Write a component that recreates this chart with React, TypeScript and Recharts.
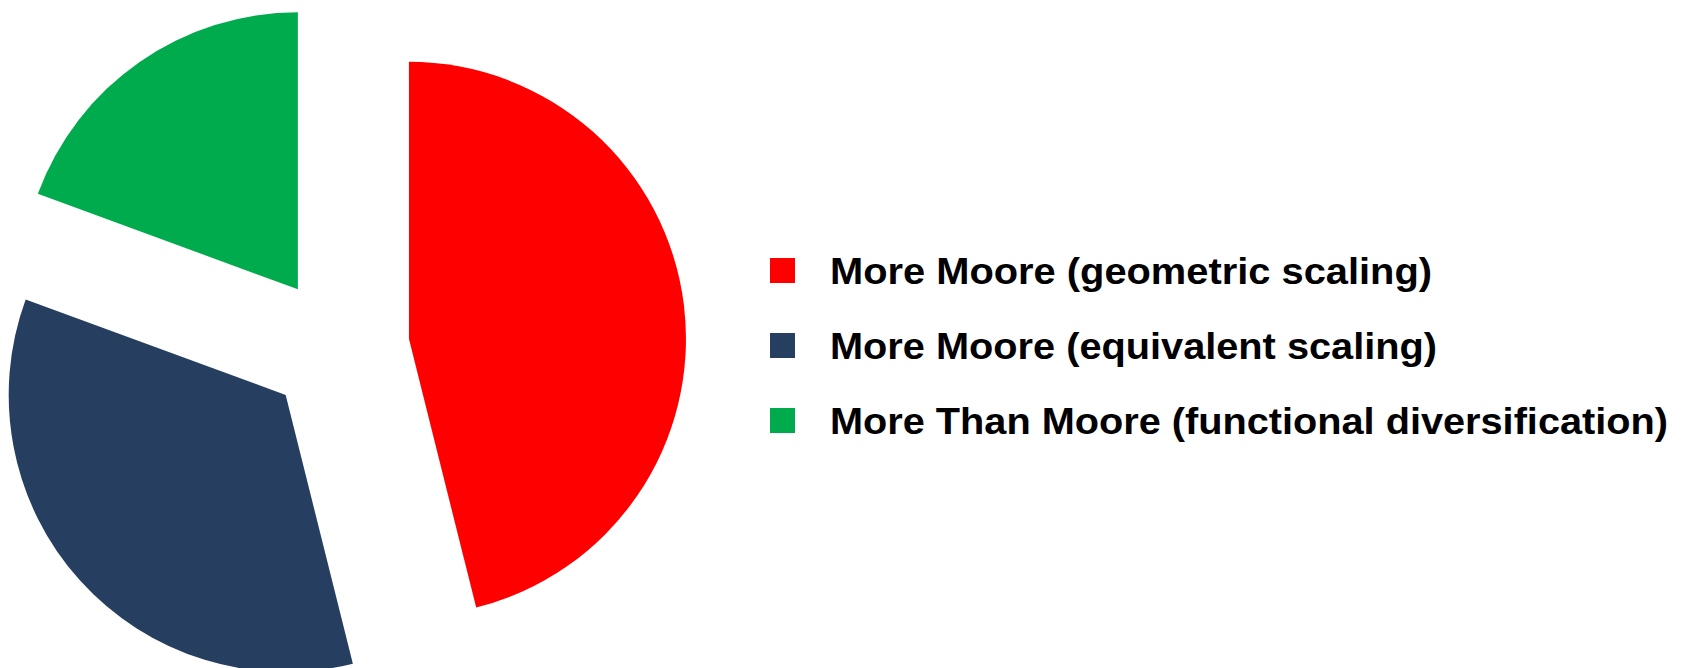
import { PieChart, Pie, Cell, Legend } from 'recharts'

const categories = [
  'More Moore (geometric scaling)',
  'More Moore (equivalent scaling)',
  'More Than Moore (functional diversification)',
]
const shares = [46.1, 34.5, 19.4]
const colors = ['#ff0000', '#263f60', '#00ab4e']
const labelWidths = [602, 607, 838]

const data = categories.map((name, i) => ({ name, value: shares[i] }))

const W = 1689
const H = 668
const CX = 338.5
const CY = 347.5
const R = 277
const EXPLODE = 71
const START = 90
const END = -270

// mid angle of each slice, so it can be pushed out from the centre
const total = shares.reduce((a, b) => a + b, 0)
const midAngles: number[] = []
{
  let acc = START
  for (const v of shares) {
    const span = ((END - START) * v) / total
    midAngles.push(acc + span / 2)
    acc += span
  }
}

function LegendBox() {
  return (
    <svg width={920} height={200}>
      {categories.map((c, i) => (
        <g key={c}>
          <rect x={0} y={8 + i * 75} width={25} height={25} fill={colors[i]} />
          <text
            x={60}
            y={34 + i * 75}
            fontFamily="'Liberation Sans', Arial, sans-serif"
            fontWeight="bold"
            fontSize={36}
            fill="#000"
            textLength={labelWidths[i]}
            lengthAdjust="spacingAndGlyphs"
          >
            {c}
          </text>
        </g>
      ))}
    </svg>
  )
}

export default function App() {
  return (
    <div style={{ position: 'absolute', left: 0, top: 0, width: W, height: H, background: '#fff' }}>
      <PieChart width={W} height={H} margin={{ top: 0, right: 0, bottom: 0, left: 0 }}>
        {data.map((d, k) => {
          const rad = (midAngles[k] * Math.PI) / 180
          return (
            <Pie
              key={d.name}
              data={data}
              dataKey="value"
              nameKey="name"
              cx={CX + EXPLODE * Math.cos(rad)}
              cy={CY - EXPLODE * Math.sin(rad)}
              outerRadius={R}
              startAngle={START}
              endAngle={END}
              stroke="none"
              legendType="none"
              isAnimationActive={false}
            >
              {data.map((e, i) => (
                <Cell key={e.name} fill={i === k ? colors[i] : 'transparent'} stroke="none" />
              ))}
            </Pie>
          )
        })}
        <Legend
          content={<LegendBox />}
          wrapperStyle={{ position: 'absolute', left: 770, top: 250, width: 920 }}
        />
      </PieChart>
    </div>
  )
}
